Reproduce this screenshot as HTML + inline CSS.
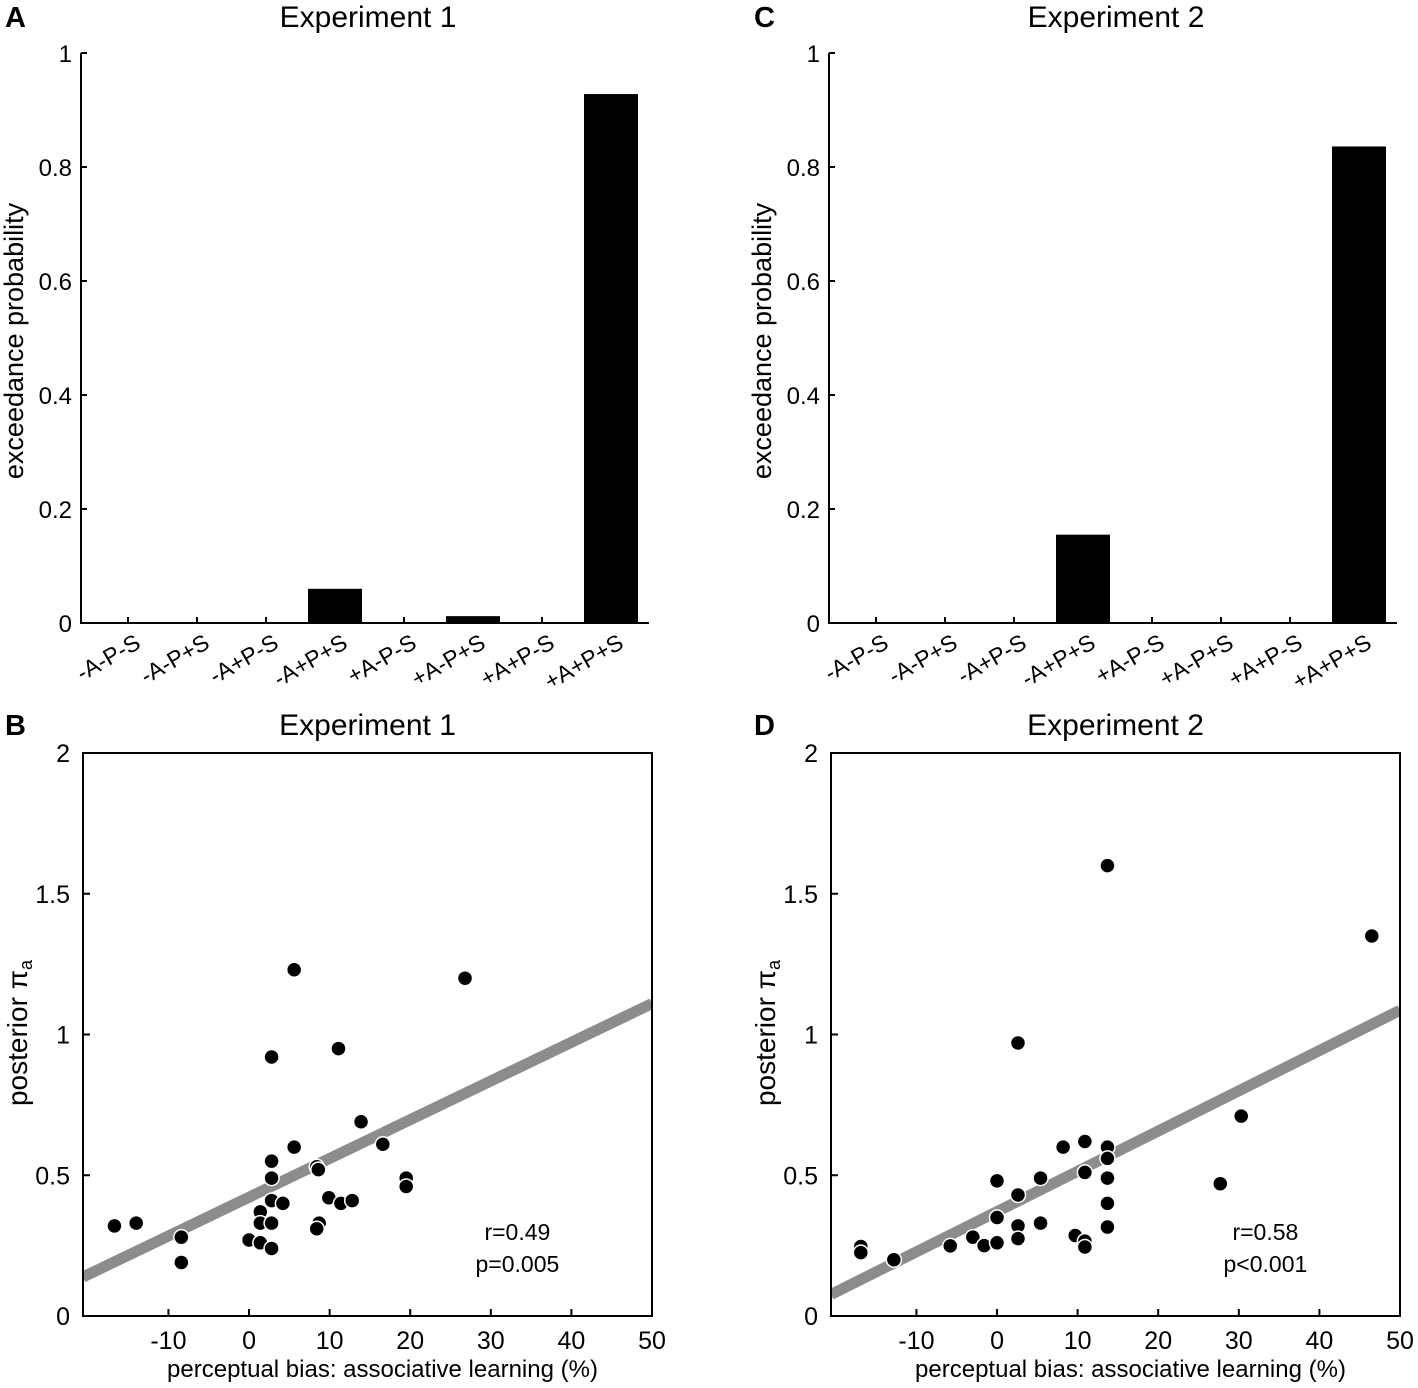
<!DOCTYPE html>
<html><head><meta charset="utf-8"><style>
body{margin:0;background:#fff}
svg{display:block;font-family:"Liberation Sans",Arial,sans-serif}
</style></head><body>
<svg id="fig" width="1418" height="1388" viewBox="0 0 1418 1388"></svg>
<script>
const categories=["-A-P-S","-A-P+S","-A+P-S","-A+P+S","+A-P-S","+A-P+S","+A+P-S","+A+P+S"];
const exp1Probs=[0,0,0,0.06,0,0.012,0,0.928];
const exp2Probs=[0,0,0,0.155,0,0,0,0.836];
const barYTicks=[0,0.2,0.4,0.6,0.8,1];
const exp1X=[5.6,26.8,2.8,11.1,13.9,16.6,5.6,2.8,8.4,8.6,2.8,19.5,19.5,2.8,4.2,9.9,11.4,12.8,1.4,1.4,2.8,-16.7,-14,-8.4,-8.4,0,1.4,2.8,8.7,8.4];
const exp1Y=[1.23,1.20,0.92,0.95,0.69,0.61,0.60,0.55,0.53,0.52,0.49,0.49,0.46,0.41,0.40,0.42,0.40,0.41,0.37,0.33,0.33,0.32,0.33,0.28,0.19,0.27,0.26,0.24,0.33,0.31];
const exp2X=[2.6,-16.9,-16.9,-12.8,-5.8,-3.0,-1.6,0,0,0,2.6,2.6,2.6,5.4,5.4,8.2,10.9,10.9,9.7,10.9,10.9,13.7,13.7,13.7,13.7,13.7,27.7,30.3,13.7,46.5];
const exp2Y=[0.97,0.247,0.225,0.20,0.249,0.28,0.25,0.26,0.35,0.48,0.43,0.32,0.275,0.49,0.33,0.60,0.62,0.51,0.286,0.266,0.245,0.60,0.56,0.49,0.40,0.316,0.47,0.71,1.60,1.35];
const fit1=[0.422,0.01376];
const fit2=[0.371,0.0143];
const scatXTicks=[-10,0,10,20,30,40,50];
const scatYTicks=[0,0.5,1,1.5,2];

const NS="http://www.w3.org/2000/svg";
const svg=document.getElementById('fig');
function mk(tag,attrs,parent,text){const e=document.createElementNS(NS,tag);for(const k in attrs)e.setAttribute(k,attrs[k]);if(text!==undefined)e.textContent=text;(parent||svg).appendChild(e);return e;}

function barPanel(ox,letter,lx,title,vals,pname){
  const g=mk('g',{});
  
  
  const y0=623,y1=53,xl=ox,xr=ox+568;
  const ys=v=>y0-(v)*(y0-y1);
  const xs=i=>ox+47+69*i;
  let t=mk('text',{x:lx,y:27,'font-size':29,'font-weight':'bold'},g,letter);
  
  t=mk('text',{x:ox+287,y:27,'font-size':30,'text-anchor':'middle'},g,title);
  
  vals.forEach((v,i)=>{
    if(v<=0)return;
    const r=mk('rect',{x:xs(i)-27,y:ys(v),width:54,height:y0-ys(v),fill:'#000'},g);
    
    
  });
  mk('line',{x1:xl,y1:y1,x2:xl,y2:y0+1,stroke:'#000','stroke-width':2},g);
  mk('line',{x1:xl-1,y1:y0,x2:xr,y2:y0,stroke:'#000','stroke-width':2},g);
  barYTicks.forEach(v=>{
    mk('line',{x1:xl,y1:ys(v),x2:xl+6,y2:ys(v),stroke:'#000','stroke-width':2},g);
    const tt=mk('text',{x:xl-9,y:ys(v)+9,'font-size':24,'text-anchor':'end'},g,String(v));
    
  });
  categories.forEach((c,i)=>{
    mk('line',{x1:xs(i),y1:y0,x2:xs(i),y2:y0-6,stroke:'#000','stroke-width':2},g);
    const tt=mk('text',{x:0,y:0,'font-size':23,'text-anchor':'end',transform:`translate(${xs(i)+14},${y0+24}) rotate(-30)`},g,c);
    
  });
  t=mk('text',{x:0,y:0,'font-size':27,'text-anchor':'middle',transform:`translate(${ox-58},${(y0+y1)/2+3}) rotate(-90)`},g,'exceedance probability');
  
}

function scatPanel(ox,letter,lx,title,X,Y,fit,stats,pname){
  const g=mk('g',{});
  
  
  const xl=ox,xr=ox+569,y0=1316,yt=753,xmin=-20.6,xmax=50;
  const xs=v=>xl+(v-xmin)/(xmax-xmin)*(xr-xl);
  const ys=v=>y0-v/2*(y0-yt);
  let t=mk('text',{x:lx,y:735,'font-size':29,'font-weight':'bold'},g,letter);
  
  t=mk('text',{x:(xl+xr)/2,y:735,'font-size':30,'text-anchor':'middle'},g,title);
  
  const cp=mk('clipPath',{id:'cp'+letter},g);mk('rect',{x:xl,y:yt,width:xr-xl,height:y0-yt},cp);
  const ln=mk('line',{x1:xs(xmin),y1:ys(fit[0]+fit[1]*xmin),x2:xs(xmax),y2:ys(fit[0]+fit[1]*xmax),stroke:'#8c8c8c','stroke-width':11,'clip-path':`url(#cp${letter})`},g);
  
  X.forEach((x,i)=>{
    const c=mk('circle',{cx:xs(x),cy:ys(Y[i]),r:7.5,fill:'#000',stroke:'#fff','stroke-width':1.5},g);
    
    
  });
  mk('rect',{x:xl,y:yt,width:xr-xl,height:y0-yt,fill:'none',stroke:'#000','stroke-width':2},g);
  scatXTicks.forEach(v=>{
    mk('line',{x1:xs(v),y1:y0,x2:xs(v),y2:y0-7,stroke:'#000','stroke-width':2},g);
    const tt=mk('text',{x:xs(v),y:y0+33,'font-size':25,'text-anchor':'middle'},g,String(v));
    
  });
  scatYTicks.forEach(v=>{
    mk('line',{x1:xl,y1:ys(v),x2:xl+7,y2:ys(v),stroke:'#000','stroke-width':2},g);
    const tt=mk('text',{x:xl-13,y:ys(v)+9,'font-size':25,'text-anchor':'end'},g,String(v));
    
  });
  t=mk('text',{x:(xl+xr)/2+15,y:1377,'font-size':24,'text-anchor':'middle'},g,'perceptual bias: associative learning (%)');
  
  t=mk('text',{x:0,y:0,'font-size':28,'text-anchor':'middle',transform:`translate(${ox-56},1033) rotate(-90)`},g);
  
  t.appendChild(document.createTextNode('posterior π'));
  mk('tspan',{'font-size':18,dy:5},t,'a');
  t=mk('text',{x:xs(33.3),y:1240,'font-size':23,'text-anchor':'middle'},g,stats[0]);
  
  t=mk('text',{x:xs(33.3),y:1272,'font-size':23,'text-anchor':'middle'},g,stats[1]);
  
}

barPanel(81,'A',5,'Experiment 1',exp1Probs,'panel-a-bar-chart');
barPanel(829,'C',754,'Experiment 2',exp2Probs,'panel-c-bar-chart');
scatPanel(83,'B',5,'Experiment 1',exp1X,exp1Y,fit1,['r=0.49','p=0.005'],'panel-b-scatter');
scatPanel(831,'D',754,'Experiment 2',exp2X,exp2Y,fit2,['r=0.58','p<0.001'],'panel-d-scatter');
</script>
</body></html>
